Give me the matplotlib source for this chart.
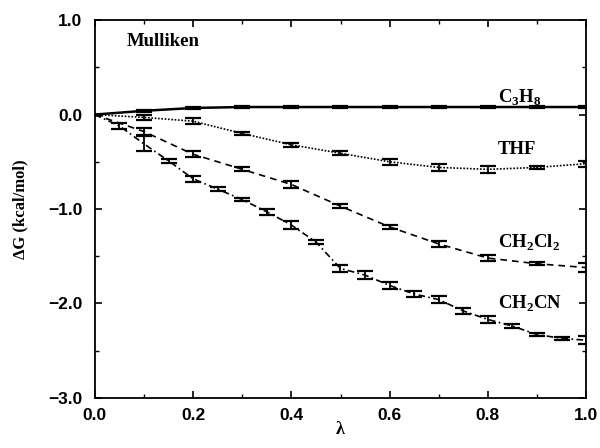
import numpy as np
import matplotlib
matplotlib.use("Agg")
from matplotlib import pyplot as plt
from matplotlib.ticker import MultipleLocator

# lambda grids
lam10 = [0.0, 0.1, 0.2, 0.3, 0.4, 0.5, 0.6, 0.7, 0.8, 0.9, 1.0]
lam05 = [0.0, 0.05, 0.1, 0.15, 0.2, 0.25, 0.3, 0.35, 0.4, 0.45, 0.5,
         0.55, 0.6, 0.65, 0.7, 0.75, 0.8, 0.85, 0.9, 0.95, 1.0]

c3h8 = [0.0, 0.04, 0.07, 0.08, 0.08, 0.08, 0.08, 0.08, 0.08, 0.08, 0.08]
c3h8_err = [0.0, 0.01, 0.01, 0.01, 0.01, 0.01, 0.01, 0.01, 0.015, 0.01, 0.015]

thf = [0.0, -0.03, -0.07, -0.20, -0.32, -0.41, -0.50, -0.56, -0.58, -0.56, -0.52]
thf_err = [0.0, 0.03, 0.03, 0.02, 0.02, 0.02, 0.03, 0.04, 0.04, 0.02, 0.03]

ch2cl2 = [0.0, -0.18, -0.42, -0.58, -0.74, -0.97, -1.19, -1.37, -1.52, -1.58, -1.62]
ch2cl2_err = [0.0, 0.04, 0.03, 0.02, 0.04, 0.02, 0.02, 0.03, 0.03, 0.015, 0.05]

ch2cn = [0.0, -0.12, -0.31, -0.49, -0.68, -0.79, -0.90, -1.03, -1.17, -1.35, -1.63,
         -1.70, -1.81, -1.90, -1.96, -2.08, -2.17, -2.24, -2.33, -2.37, -2.39]
ch2cn_err = [0.0, 0.03, 0.08, 0.02, 0.03, 0.02, 0.02, 0.03, 0.04, 0.02, 0.04,
             0.04, 0.04, 0.03, 0.04, 0.03, 0.04, 0.02, 0.02, 0.015, 0.04]

serif = ["Liberation Serif", "DejaVu Serif"]
sans = ["Liberation Sans", "DejaVu Sans"]

fig = plt.figure(figsize=(6, 4.48), dpi=100)
ax = fig.add_axes([0.158, 0.112, 0.819, 0.843])

eb = dict(color="black", capsize=6, elinewidth=1.3, capthick=1.6)
ax.errorbar(lam10, c3h8, yerr=c3h8_err, linestyle="-", linewidth=1.8, **eb)
ax.errorbar(lam10, thf, yerr=thf_err, linestyle=(0, (1, 1)), linewidth=1.2, **eb)
ax.errorbar(lam10, ch2cl2, yerr=ch2cl2_err, linestyle=(0, (4, 3)), linewidth=1.2, **eb)
ax.errorbar(lam05, ch2cn, yerr=ch2cn_err, linestyle=(0, (4, 2, 1, 2)), linewidth=1.2, **eb)

ax.set_xlim(0, 1.0)
ax.set_ylim(-3.0, 1.0)
ax.xaxis.set_major_locator(MultipleLocator(0.2))
ax.xaxis.set_minor_locator(MultipleLocator(0.1))
ax.yaxis.set_major_locator(MultipleLocator(1.0))
ax.yaxis.set_minor_locator(MultipleLocator(0.5))
ax.tick_params(which="both", direction="in", top=True, right=True)
ax.tick_params(which="major", length=5, width=1.2)
ax.tick_params(axis="x", which="major", pad=7)
ax.tick_params(axis="y", which="major", pad=9)
ax.tick_params(which="minor", length=3, width=1.0)
for s in ax.spines.values():
    s.set_linewidth(1.3)

ax.set_xticklabels([f"{v:.1f}" for v in ax.get_xticks()])
ax.set_yticklabels([f"{v:.1f}".replace("-", "\u2212") for v in ax.get_yticks()])
for t in ax.get_xticklabels() + ax.get_yticklabels():
    t.set_family(sans)
    t.set_fontweight("bold")
    t.set_fontsize(12.5)

ax.set_xlabel("\u03bb", family=serif, fontweight="bold", fontsize=13, labelpad=-1)
ax.set_ylabel("\u0394G (kcal/mol)", family=serif, fontweight="bold", fontsize=12, labelpad=14)

tk = dict(family=serif, fontweight="bold", fontsize=13.5, va="center", ha="left")
ax.text(0.065, 0.77, "Mulliken", **tk)
ax.text(0.82, 0.18, "C$_\\mathregular{3}$H$_\\mathregular{8}$", **tk)
ax.text(0.82, -0.37, "THF", **tk)
ax.text(0.82, -1.36, "CH$_\\mathregular{2}$Cl$_\\mathregular{2}$", **tk)
ax.text(0.82, -2.00, "CH$_\\mathregular{2}$CN", **tk)

fig.savefig("out.png", dpi=100)
